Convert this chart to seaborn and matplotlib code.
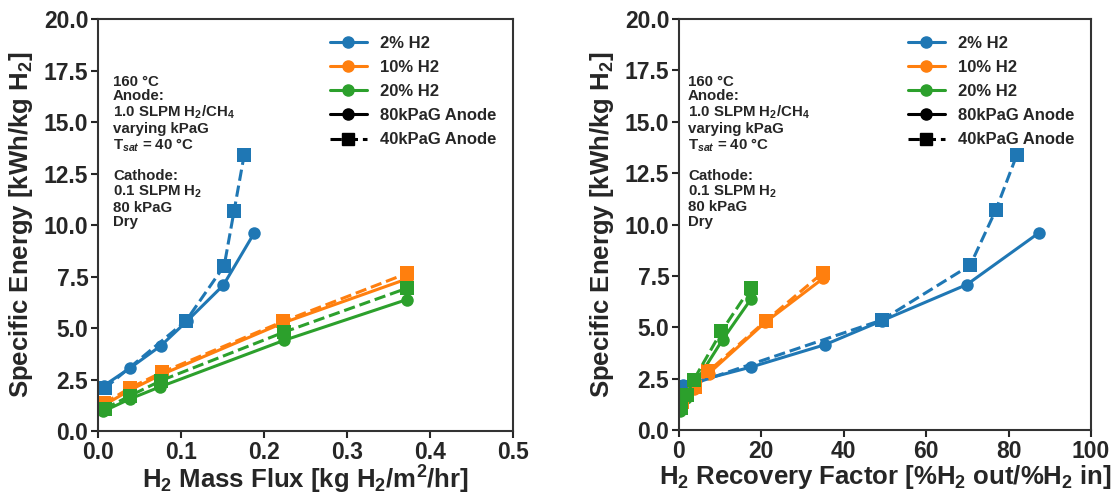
import numpy as np
import pandas as pd
import matplotlib
matplotlib.use("Agg")
import matplotlib.pyplot as plt
import seaborn as sns
from matplotlib.lines import Line2D

sns.set_theme(style="ticks")
plt.rcParams['font.family'] = ['Liberation Sans', 'DejaVu Sans']
plt.rcParams['font.weight'] = 'bold'
plt.rcParams['axes.labelweight'] = 'bold'
plt.rcParams['mathtext.fontset'] = 'custom'
plt.rcParams['mathtext.rm'] = 'Liberation Sans:bold'
plt.rcParams['mathtext.bf'] = 'Liberation Sans:bold'
plt.rcParams['mathtext.it'] = 'Liberation Sans:italic:bold'
plt.rcParams['mathtext.default'] = 'bf'

# ---------------- data ----------------
mixes = ["2% H2", "10% H2", "20% H2"]
colors = ["#1f77b4", "#ff7f0e", "#2ca02c"]

# 80 kPaG anode (circles, solid)
flux_80 = [
    [0.007, 0.039, 0.076, 0.107, 0.151, 0.188],
    [0.007, 0.039, 0.077, 0.223, 0.372],
    [0.006, 0.038, 0.075, 0.224, 0.372],
]
recov_80 = [
    [1.0, 17.6, 35.4, 49.4, 69.9, 87.4],
    [0.7, 3.7, 7.2, 21.0, 35.0],
    [0.3, 1.8, 3.5, 10.6, 17.5],
]
energy_80 = [
    [2.2, 3.07, 4.15, 5.33, 7.08, 9.6],
    [1.25, 2.0, 2.75, 5.25, 7.38],
    [0.95, 1.55, 2.15, 4.4, 6.38],
]

# 40 kPaG anode (squares, dashed)
flux_40 = [
    [0.008, 0.106, 0.152, 0.164, 0.176],
    [0.007, 0.039, 0.077, 0.223, 0.372],
    [0.008, 0.039, 0.076, 0.224, 0.372],
]
recov_40 = [
    [0.8, 49.2, 70.7, 76.9, 82.0],
    [0.7, 4.0, 7.1, 21.1, 34.9],
    [0.4, 1.9, 3.6, 10.3, 17.4],
]
energy_40 = [
    [2.07, 5.35, 8.02, 10.7, 13.38],
    [1.34, 2.1, 2.85, 5.32, 7.65],
    [1.08, 1.72, 2.45, 4.8, 6.93],
]

annot = ("160 °C\nAnode:\n1.0 SLPM H$_2$/CH$_4$\nvarying kPaG\n"
         "T$_{\\mathit{sat}}$ = 40 °C\n\nCathode:\n0.1 SLPM H$_2$\n80 kPaG\nDry")

fig = plt.figure(figsize=(11.14, 4.96), dpi=100)
ax1 = fig.add_axes([0.088, 0.131, 0.3725, 0.8306])
ax2 = fig.add_axes([0.6095, 0.133, 0.3698, 0.8286])

def draw(ax, xs80, xs40):
    for i in range(3):
        sns.lineplot(x=xs80[i], y=energy_80[i], ax=ax, color=colors[i],
                     marker='o', markersize=9, linewidth=2.2, linestyle='-',
                     markeredgewidth=0, sort=False)
    for i in range(3):
        sns.lineplot(x=xs40[i], y=energy_40[i], ax=ax, color=colors[i],
                     marker='s', markersize=9.5, linewidth=2.2, linestyle='--',
                     markeredgewidth=0, sort=False)

draw(ax1, flux_80, flux_40)
draw(ax2, recov_80, recov_40)

handles = [Line2D([], [], color=c, marker='o', markersize=8, linewidth=2.2) for c in colors]
handles.append(Line2D([], [], color='black', marker='o', markersize=8, linewidth=2.2))
handles.append(Line2D([], [], color='black', marker='s', markersize=8, linewidth=2.2, linestyle='--'))
labels = mixes + ["80kPaG Anode", "40kPaG Anode"]

for ax, xlim, xticks, xlabel, tx in [
    (ax1, (0, 0.5), np.arange(0, 0.51, 0.1), "H$_2$ Mass Flux [kg H$_2$/m$^2$/hr]", 0.036),
    (ax2, (0, 100), np.arange(0, 101, 20), "H$_2$ Recovery Factor [%H$_2$ out/%H$_2$ in]", 0.022),
]:
    ax.set_xlim(*xlim)
    ax.set_ylim(0, 20)
    ax.set_xticks(xticks)
    ax.set_yticks(np.arange(0, 20.1, 2.5))
    if xlim[1] == 100:
        ax.set_xticklabels([f"{int(v)}" for v in xticks])
    else:
        ax.set_xticklabels([f"{v:.1f}" for v in xticks])
    ax.set_yticklabels([f"{v:.1f}" for v in np.arange(0, 20.1, 2.5)])
    ax.tick_params(labelsize=16.5, length=5, width=1.5, direction='out', pad=2)
    for lab in ax.get_xticklabels() + ax.get_yticklabels():
        lab.set_fontweight('bold')
    for s in ax.spines.values():
        s.set_linewidth(1.5)
        s.set_color('#333333')
        s.set_visible(True)
    ax.set_xlabel(xlabel, fontsize=18.5, fontweight='bold', labelpad=0)
    ax.set_ylabel("Specific Energy [kWh/kg H$_2$]", fontsize=18.5, fontweight='bold', labelpad=6)
    ax.text(tx, 0.865, annot, transform=ax.transAxes, va='top', ha='left',
            fontsize=10.8, fontweight='bold', linespacing=1.05)
    leg = ax.legend(handles, labels, loc='upper right', frameon=False,
                    prop={'size': 12, 'weight': 'bold'}, handlelength=2.2,
                    borderaxespad=0.6, labelspacing=0.55)

fig.savefig("out.png", dpi=100)
